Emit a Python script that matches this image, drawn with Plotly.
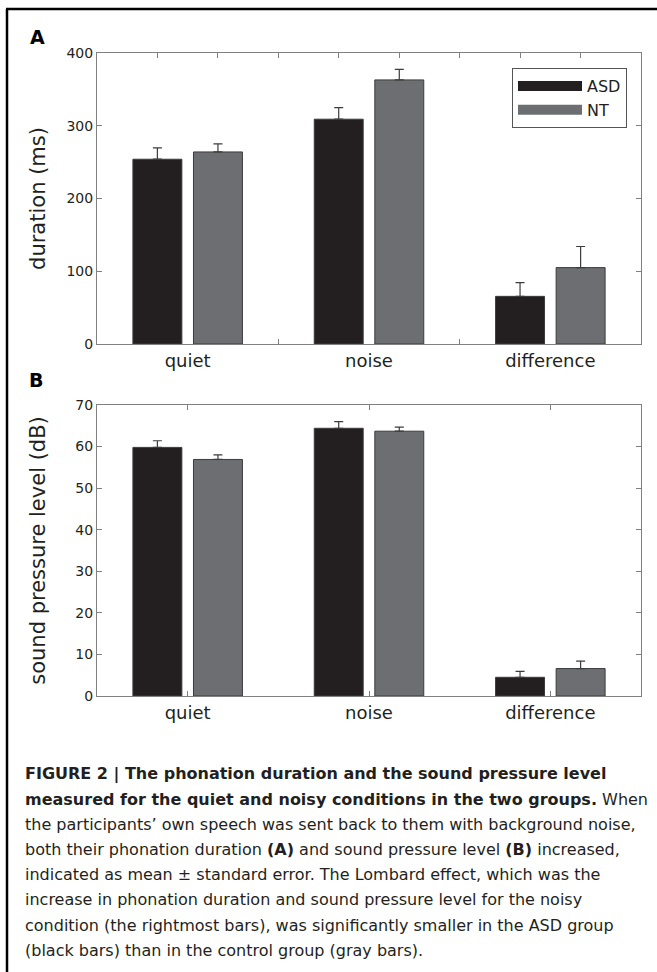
import plotly.graph_objects as go

# ---------------- data ----------------
categories = ["quiet", "noise", "difference"]
groups = ["ASD", "NT"]

duration_asd = [254, 309, 65.5]
duration_asd_err = [15.5, 16, 19]
duration_nt = [264, 363, 105]
duration_nt_err = [11, 14.5, 29]

spl_asd = [59.8, 64.4, 4.5]
spl_asd_err = [1.6, 1.6, 1.4]
spl_nt = [56.9, 63.7, 6.6]
spl_nt_err = [1.1, 1.0, 1.8]

duration_ticks = [0, 100, 200, 300, 400]
spl_ticks = [0, 10, 20, 30, 40, 50, 60, 70]

caption_lines = [
    "<b>FIGURE 2 | The phonation duration and the sound pressure level</b>",
    "<b>measured for the quiet and noisy conditions in the two groups.</b> When",
    "the participants’ own speech was sent back to them with background noise,",
    "both their phonation duration <b>(A)</b> and sound pressure level <b>(B)</b> increased,",
    "indicated as mean ± standard error. The Lombard effect, which was the",
    "increase in phonation duration and sound pressure level for the noisy",
    "condition (the rightmost bars), was significantly smaller in the ASD group",
    "(black bars) than in the control group (gray bars).",
]

# ---------------- style ----------------
W, H = 657, 972
ML, MR, MT, MB = 97, 16, 53, 276
PW = W - ML - MR
PH = H - MT - MB
FONT = "DejaVu Sans, Liberation Sans, sans-serif"
TXT = "#231f20"
AX = "#808080"
COL = {"ASD": "#231f20", "NT": "#6d6e71"}
BAR_W = 0.27
OFFS = {"ASD": -0.302, "NT": 0.032}


def px(x):
    return (x - ML) / PW


def py(y):
    return (H - MB - y) / PH


xs = list(range(len(categories)))

fig = go.Figure()

panels = [
    ("x", "y", {"ASD": (duration_asd, duration_asd_err), "NT": (duration_nt, duration_nt_err)}),
    ("x2", "y2", {"ASD": (spl_asd, spl_asd_err), "NT": (spl_nt, spl_nt_err)}),
]
for xa, ya, d in panels:
    for g in groups:
        vals, errs = d[g]
        fig.add_trace(go.Bar(
            x=xs, y=vals, name=g, xaxis=xa, yaxis=ya,
            width=BAR_W, offset=OFFS[g],
            marker=dict(color=COL[g], line=dict(color="#3c3c3c", width=1)),
            error_y=dict(type="data", symmetric=False, array=errs,
                         arrayminus=[0] * len(errs), color="#3c3c3c",
                         thickness=1.2, width=4.5),
            showlegend=False, hoverinfo="skip",
        ))

# legend entries (wide swatches)
for g in groups:
    fig.add_trace(go.Scatter(
        x=[None], y=[None], mode="lines", name=g, xaxis="x", yaxis="y",
        line=dict(color=COL[g], width=13),
    ))

xcommon = dict(
    range=[-0.5, 2.5], tickmode="array", tickvals=xs, ticktext=categories,
    showline=True, linecolor=AX, linewidth=1, mirror="ticks",
    tickfont=dict(size=18, color=TXT, family=FONT), showgrid=False,
    zeroline=False, automargin=False, layer="below traces",
)
ycommon = dict(
    showline=True, linecolor=AX, linewidth=1, mirror="ticks",
    ticks="inside", ticklen=5, tickcolor=AX, showgrid=False, zeroline=False,
    tickfont=dict(size=14, color=TXT, family=FONT), automargin=False,
)

minor_vals = [-1 / 6 + k / 3 for k in range(8)]

fig.update_layout(
    width=W, height=H,
    margin=dict(l=ML, r=MR, t=MT, b=MB),
    template="none",
    paper_bgcolor="white", plot_bgcolor="white",
    font=dict(family=FONT, color=TXT),
    barmode="overlay",
    xaxis=dict(**xcommon, domain=[0, 1], anchor="y", ticks="",
               minor=dict(tickmode="array", tickvals=minor_vals, ticks="inside",
                          ticklen=5, tickcolor=AX)),
    yaxis=dict(**ycommon, domain=[py(344), 1], anchor="x", range=[0, 400],
               tickvals=duration_ticks,
               title=dict(text="duration (ms)", font=dict(size=21, color=TXT))),
    xaxis2=dict(**xcommon, domain=[0, 1], anchor="y2", ticks="inside",
                ticklen=5, tickcolor=AX),
    yaxis2=dict(**ycommon, domain=[0, py(405)], anchor="x2", range=[0, 70],
                tickvals=spl_ticks,
                title=dict(text="sound pressure level (dB)", font=dict(size=21, color=TXT))),
    legend=dict(x=px(512), y=py(68), xanchor="left", yanchor="top",
                bgcolor="white", bordercolor="#555555", borderwidth=1,
                itemwidth=64,
                font=dict(size=16, color=TXT, family=FONT), tracegroupgap=0),
)

annotations = [
    dict(text="<b>A</b>", x=px(28), y=py(37), xref="paper", yref="paper",
         xanchor="left", yanchor="middle", showarrow=False,
         font=dict(size=19, color="black", family=FONT)),
    dict(text="<b>B</b>", x=px(27), y=py(380), xref="paper", yref="paper",
         xanchor="left", yanchor="middle", showarrow=False,
         font=dict(size=19, color="black", family=FONT)),
]
line_y = [774, 799, 824, 849, 874, 899, 925, 950]
for t, yy in zip(caption_lines, line_y):
    annotations.append(dict(
        text=t, x=px(23), y=py(yy), xref="paper", yref="paper",
        xanchor="left", yanchor="middle", showarrow=False, align="left",
        font=dict(size=16, color=TXT, family=FONT)))
fig.update_layout(annotations=annotations)

# figure frame (left and top borders)
fig.add_shape(type="line", xref="paper", yref="paper",
              x0=px(7), x1=px(7), y0=py(9), y1=py(H + 5),
              line=dict(color="black", width=2.5))
fig.add_shape(type="line", xref="paper", yref="paper",
              x0=px(6), x1=px(W + 5), y0=py(9), y1=py(9),
              line=dict(color="black", width=2.5))

fig.write_html(
    "out.html",
    config={"displayModeBar": False},
    post_script="document.body.style.margin='0px';document.body.style.padding='0px';document.body.style.overflow='hidden';",
)
